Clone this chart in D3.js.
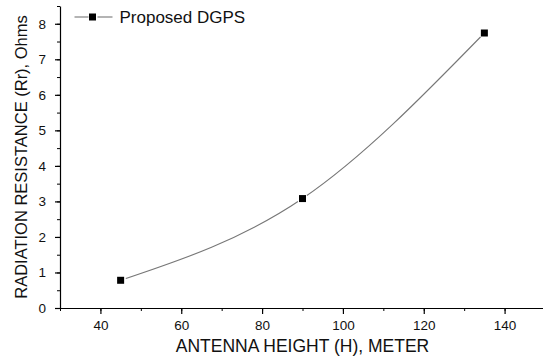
<!DOCTYPE html>
<html>
<head>
<meta charset="utf-8">
<script src="https://cdn.jsdelivr.net/npm/d3@7"></script>
<style>
  body { margin: 0; background: #fff; }
  text { font-family: "Liberation Sans", Arial, sans-serif; fill: #111; }
</style>
</head>
<body>
<div id="chart"></div>
<script>
// antenna height (m) vs radiation resistance (ohm)
const heights = [45, 90, 135];
const resistance = [0.78, 3.08, 7.74];
const xTicks = [40, 60, 80, 100, 120, 140];
const yTicks = [0, 1, 2, 3, 4, 5, 6, 7, 8];
const seriesName = "Proposed DGPS";

const width = 543, height = 356;
const margin = {left: 60, right: -2, top: 6, bottom: 48};

const svg = d3.select('#chart').append('svg')
    .attr('width', width)
    .attr('height', height);

const x = d3.scaleLinear().domain([30, 150]).range([margin.left, width - margin.right]);
const y = d3.scaleLinear().domain([0, 8.5]).range([height - margin.bottom, margin.top]);

// minor ticks first, then major axis on top
svg.append('g')
    .attr('transform', 'translate(0,' + (height - margin.bottom) + ')')
    .call(d3.axisBottom(x).tickValues(d3.range(30, 151, 10)).tickSize(3).tickFormat(''))
    .call(g => g.select('.domain').remove());
svg.append('g')
    .attr('transform', 'translate(' + margin.left + ',0)')
    .call(d3.axisLeft(y).tickValues(d3.range(0, 8.51, 0.5)).tickSize(3).tickFormat(''))
    .call(g => g.select('.domain').remove());

const xAxis = svg.append('g')
    .attr('transform', 'translate(0,' + (height - margin.bottom) + ')')
    .call(d3.axisBottom(x).tickValues(xTicks).tickSize(6).tickPadding(6).tickSizeOuter(0));
const yAxis = svg.append('g')
    .attr('transform', 'translate(' + margin.left + ',0)')
    .call(d3.axisLeft(y).tickValues(yTicks).tickSize(5).tickPadding(9).tickSizeOuter(0));

[xAxis, yAxis].forEach(function(g){
    g.selectAll('text').style('font-size', '13.5px').attr('fill', '#111');
    g.selectAll('line, path').attr('stroke', '#000').attr('stroke-width', 1.2);
});

// curve through the points
const pts = heights.map((h, i) => [h, resistance[i]]);
const line = d3.line()
    .x(d => x(d[0]))
    .y(d => y(d[1]))
    .curve(d3.curveNatural);

svg.append('path')
    .datum(pts)
    .attr('d', line)
    .attr('fill', 'none')
    .attr('stroke', '#777')
    .attr('stroke-width', 1.1);

// white gap around each marker, then the marker
svg.selectAll('.gap').data(pts).enter().append('circle')
    .attr('class', 'gap')
    .attr('cx', d => x(d[0]))
    .attr('cy', d => y(d[1]))
    .attr('r', 5.5)
    .attr('fill', '#fff');
svg.selectAll('.mark').data(pts).enter().append('rect')
    .attr('class', 'mark')
    .attr('x', d => x(d[0]) - 3.5)
    .attr('y', d => y(d[1]) - 3.5)
    .attr('width', 7)
    .attr('height', 7)
    .attr('fill', '#000');

// legend
const lg = svg.append('g').attr('transform', 'translate(92.5,17)');
lg.append('line').attr('x1', -18).attr('x2', -4).attr('stroke', '#777').attr('stroke-width', 1.1);
lg.append('line').attr('x1', 5).attr('x2', 20).attr('stroke', '#777').attr('stroke-width', 1.1);
lg.append('rect').attr('x', -3.5).attr('y', -3.5).attr('width', 7).attr('height', 7).attr('fill', '#000');
lg.append('text').attr('x', 27).attr('y', 6).style('font-size', '17px').text(seriesName);

// axis titles
svg.append('text')
    .attr('x', (x.range()[0] + x.range()[1]) / 2)
    .attr('y', 352)
    .attr('text-anchor', 'middle')
    .style('font-size', '17.5px')
    .text('ANTENNA HEIGHT (H), METER');
svg.append('text')
    .attr('transform', 'translate(27,' + ((y.range()[0] + y.range()[1]) / 2) + ') rotate(-90)')
    .attr('text-anchor', 'middle')
    .style('font-size', '16.5px')
    .text('RADIATION RESISTANCE (Rr), Ohms');
</script>
</body>
</html>
